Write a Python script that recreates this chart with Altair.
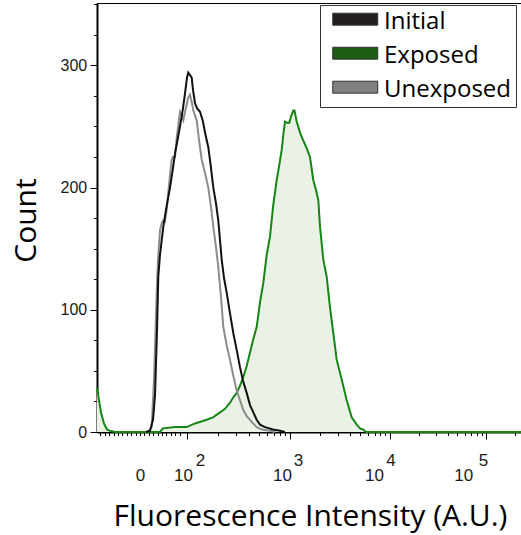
import math
import altair as alt
import pandas as pd

# x values are positions on the biexponential display axis (10^2 -> 2.0, 10^3 -> 3.03 ...)
initial_x = [1.59, 1.63, 1.66, 1.68, 1.70, 1.713, 1.73, 1.763, 1.79, 1.83, 1.86, 1.88, 1.91, 1.93,
             1.96, 1.98, 2.00, 2.013, 2.03, 2.047, 2.06, 2.08, 2.10, 2.13, 2.16, 2.18, 2.213, 2.24,
             2.263, 2.29, 2.313, 2.33, 2.347, 2.37, 2.397, 2.43, 2.463, 2.497, 2.53, 2.56, 2.597,
             2.63, 2.663, 2.697, 2.73, 2.78, 2.86, 2.93, 2.98]
initial_count = [0, 1, 10, 30, 83, 127, 145, 168, 182, 200, 216, 228, 241, 250,
                 265, 277, 290, 294, 292, 290, 280, 269, 265, 262, 254, 245, 233, 216,
                 200, 187, 173, 157, 141, 126, 114, 97, 81, 67, 53, 42, 32,
                 22, 16, 10, 6, 4, 2, 1, 0]

unexposed_x = [1.61, 1.647, 1.67, 1.697, 1.71, 1.73, 1.747, 1.76, 1.78, 1.797, 1.813, 1.83, 1.847,
               1.86, 1.88, 1.90, 1.93, 1.945, 1.963, 1.98, 1.997, 2.01, 2.03, 2.05, 2.063, 2.08,
               2.097, 2.12, 2.147, 2.18, 2.213, 2.24, 2.263, 2.29, 2.313, 2.34, 2.363, 2.397, 2.43,
               2.46, 2.497, 2.53, 2.563, 2.597, 2.63, 2.66, 2.697, 2.75, 2.83, 2.88]
unexposed_count = [0, 4, 43, 114, 141, 165, 171, 173, 172, 182, 196, 210, 223,
                   225, 225, 243, 262, 259, 255, 262, 268, 273, 276, 269, 263, 259,
                   255, 239, 223, 212, 200, 184, 168, 151, 135, 110, 86, 71, 59,
                   47, 34, 26, 18, 13, 10, 7, 4, 2, 1, 0]

exposed_x = [1.10, 1.12, 1.14, 1.17, 1.20, 1.23, 1.28, 1.73, 1.76, 1.88, 1.997, 2.08, 2.197, 2.26,
             2.33, 2.38, 2.43, 2.46, 2.497, 2.53, 2.563, 2.597, 2.63, 2.66, 2.697, 2.73, 2.763,
             2.797, 2.83, 2.863, 2.897, 2.93, 2.947, 2.963, 2.98, 3.00, 3.023, 3.04, 3.063, 3.075,
             3.097, 3.13, 3.16, 3.197, 3.23, 3.263, 3.29, 3.313, 3.33, 3.363, 3.397, 3.43, 3.463,
             3.497, 3.547, 3.597, 3.647, 3.697, 3.73, 3.763, 3.79, 5.34]
exposed_count = [36, 26, 16, 7, 2, 1, 0, 0, 3, 4, 4, 7, 10, 12,
                 16, 19, 24, 28, 32, 38, 45, 54, 65, 75, 86, 106, 122,
                 145, 160, 186, 206, 222, 231, 243, 254, 253, 253, 258, 263, 263,
                 254, 245, 239, 232, 225, 206, 198, 190, 168, 141, 127, 102, 81,
                 59, 43, 26, 12, 6, 3, 2, 0, 0]

legend_series = ["Initial", "Exposed", "Unexposed"]
legend_colors = ["#231f20", "#1d5c14", "#808080"]

zero_pos = 1.53
decade_pos = [2.0, 3.03, 4.03, 4.99]
decade_exponents = ["2", "3", "4", "5"]
y_labels = [0, 100, 200, 300]

# minor tick positions
minor_ticks = [round(zero_pos + k * 0.044, 4) for k in range(-9, 10)]
edges = decade_pos + [5.95]
for a, b in zip(edges[:-1], edges[1:]):
    for k in range(2, 10):
        v = round(a + (b - a) * math.log10(k), 4)
        if v < 5.34:
            minor_ticks.append(v)
all_ticks = sorted(set(minor_ticks + decade_pos))

df_init = pd.DataFrame({"x": initial_x, "count": initial_count})
df_unexp = pd.DataFrame({"x": unexposed_x, "count": unexposed_count})
df_exp = pd.DataFrame({"x": exposed_x, "count": exposed_count})
df_leg = pd.DataFrame({"series": legend_series, "x": [zero_pos] * 3, "count": [0] * 3})

xs = alt.Scale(domain=[1.1, 5.34], nice=False, zero=False)
ys = alt.Scale(domain=[0, 351], nice=False, zero=False)

major_test = " || ".join(f"datum.value == {v}" for v in decade_pos)

tick_axis = alt.Axis(
    orient="bottom", values=all_ticks, labels=False, ticks=True,
    tickSize={"condition": {"test": major_test, "value": 7}, "value": 3.5},
    tickColor="black", tickWidth=1, domain=True, domainColor="black", domainWidth=2,
    grid=False, title="Fluorescence Intensity (A.U.)", titleFont="Open Sans",
    titleFontSize=30, titleFontWeight="normal", titleColor="black",
    titleX=213, titleY=93, titleBaseline="alphabetic", titleAlign="center",
)

def rng(v):
    return f"datum.value > {v - 0.05} && datum.value < {v + 0.05}"

base_label_axis = alt.Axis(
    orient="bottom", values=[zero_pos] + decade_pos,
    labelExpr=f"datum.value < {zero_pos + 0.1} ? '0' : '10'",
    ticks=False, tickSize=0, domain=False, grid=False, title=None,
    labelFont="Liberation Sans", labelFontSize=17, labelColor="#1a1a1a",
    labelBaseline="alphabetic", labelPadding=48, labelFlush=False, labelOverlap=False,
    labelOffset={"condition": [
        {"test": rng(decade_pos[0]), "value": -4},
        {"test": rng(decade_pos[1]), "value": -8},
        {"test": rng(decade_pos[2]), "value": -16},
        {"test": rng(decade_pos[3]), "value": -22.7},
    ], "value": 0},
)

exp_label_axis = alt.Axis(
    orient="bottom", values=decade_pos,
    labelExpr=(f"datum.value < 2.5 ? '{decade_exponents[0]}' : datum.value < 3.5 ? "
               f"'{decade_exponents[1]}' : datum.value < 4.5 ? '{decade_exponents[2]}' : "
               f"'{decade_exponents[3]}'"),
    ticks=False, tickSize=0, domain=False, grid=False, title=None,
    labelFont="Liberation Sans", labelFontSize=17, labelColor="#1a1a1a",
    labelBaseline="alphabetic", labelPadding=33, labelFlush=False, labelOverlap=False,
    labelOffset={"condition": [
        {"test": rng(decade_pos[0]), "value": 13},
        {"test": rng(decade_pos[1]), "value": 8},
        {"test": rng(decade_pos[2]), "value": 0.5},
        {"test": rng(decade_pos[3]), "value": -3},
    ], "value": 0},
)

ytick_axis = alt.Axis(
    orient="left", values=list(range(0, 351, 25)), labels=False,
    tickSize={"condition": {"test": "datum.value % 100 == 0", "value": 7}, "value": 3.5},
    tickColor="black", tickWidth=1, domain=True, domainColor="black", domainWidth=2,
    grid=False, title=None,
)

ylabel_axis = alt.Axis(
    orient="left", values=y_labels, ticks=False, tickSize=0, domain=False, grid=False,
    labelFont="Liberation Sans", labelFontSize=16, labelColor="#1a1a1a", labelPadding=10.3,
    labelFlush=False, labelOverlap=False,
    title="Count", titleFont="Open Sans", titleFontSize=30, titleFontWeight="normal",
    titleColor="black", titleAngle=270, titleX=-62, titleY=217,
    titleBaseline="alphabetic", titleAlign="center",
)

area = alt.Chart(df_exp).mark_area(
    color="#e9f2e5", opacity=1, interpolate="linear",
    line={"color": "#158515", "strokeWidth": 2},
).encode(
    x=alt.X("x:Q", scale=xs, axis=tick_axis),
    y=alt.Y("count:Q", scale=ys, axis=ytick_axis),
)

gray = alt.Chart(df_unexp).mark_line(color="#8c8c8c", strokeWidth=2).encode(
    x=alt.X("x:Q", scale=xs, axis=base_label_axis),
    y=alt.Y("count:Q", scale=ys, axis=ylabel_axis),
)

black = alt.Chart(df_init).mark_line(color="#111111", strokeWidth=2).encode(
    x=alt.X("x:Q", scale=xs, axis=exp_label_axis),
    y=alt.Y("count:Q", scale=ys, axis=None),
)

sym_path = "M-0.378,-0.78H3.622V0.28H-0.378Z"
leg = alt.Chart(df_leg).mark_square(size=0, opacity=0, filled=True).encode(
    x=alt.X("x:Q", scale=xs, axis=None),
    y=alt.Y("count:Q", scale=ys, axis=None),
    color=alt.Color(
        "series:N",
        scale=alt.Scale(domain=legend_series, range=legend_colors),
        sort=legend_series,
        legend=alt.Legend(
            title=None, orient="none", legendX=223, legendY=2,
            symbolType=sym_path, symbolSize=506, symbolStrokeColor="#333333",
            symbolStrokeWidth=1, symbolOpacity=1,
            labelFont="Open Sans", labelFontSize=24, labelColor="black",
            labelOffset=35, rowPadding=10, padding=5,
            strokeColor="#333333", fillColor="white",
        ),
    ),
)

chart = alt.layer(area, gray, black, leg).resolve_axis(
    x="independent", y="independent"
).properties(
    width=424, height=429,
    padding={"left": 97, "top": 3, "right": 0, "bottom": 103},
    autosize=alt.AutoSizeParams(type="none"),
    background="white",
).configure_view(stroke="black", strokeWidth=1)

chart.save("out.html", embed_options={"renderer": "svg", "actions": False})
